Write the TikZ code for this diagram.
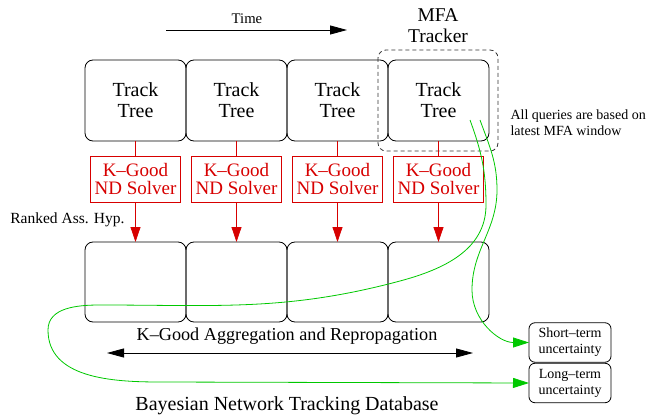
\documentclass[tikz,border=0pt]{standalone}
\usepackage{fontspec}
\setmainfont{Liberation Serif}
\usetikzlibrary{arrows.meta}
\definecolor{solverred}{RGB}{215,0,0}
\definecolor{querygreen}{RGB}{0,200,0}

\begin{document}
\begin{tikzpicture}[x=1pt,y=-1pt,
  treebox/.style={draw, rounded corners=8pt, minimum width=101pt, minimum height=81pt,
    inner sep=0pt, outer sep=0pt, line width=0.8pt, align=center,
    font=\fontsize{20}{21}\selectfont},
  dbbox/.style={draw, rounded corners=8pt, minimum width=101pt, minimum height=80pt,
    inner sep=0pt, outer sep=0pt, line width=0.8pt},
  solverbox/.style={draw=solverred, text=solverred, minimum width=90pt, minimum height=46pt,
    inner sep=0pt, outer sep=0pt, line width=0.8pt, align=center,
    font=\fontsize{19}{18}\selectfont},
  resultbox/.style={draw, rounded corners=6pt, minimum width=82pt, minimum height=39.5pt,
    inner sep=0pt, outer sep=0pt, line width=0.8pt, align=center,
    font=\fontsize{14}{16}\selectfont},
  redarrow/.style={solverred, line width=0.8pt, -{Triangle[length=15pt,width=10pt]}},
  blackarrow/.style={line width=0.8pt, -{Triangle[length=17pt,width=9pt]}},
  greenarrow/.style={querygreen, line width=0.8pt, -{Triangle[length=16pt,width=10pt]}},
]
\useasboundingbox (0,0) rectangle (646,420);

% time axis
\coordinate (t0) at (166,30);
\coordinate (t1) at (347,30);
\draw[blackarrow] (t0) -- (t1);
\node[font=\fontsize{14.7}{16}\selectfont] (timelbl) at (247,19) {Time};

% MFA tracker window
\node[align=center, font=\fontsize{19.5}{21}\selectfont] (mfalbl) at (438,26) {MFA\\Tracker};
\draw[line width=0.8pt, dash pattern=on 4pt off 3pt, rounded corners=8pt, black!80]
  (378,50) rectangle (498,151);

% track trees, solvers and database slots
\foreach \i/\x in {1/135.5, 2/236.5, 3/337.5, 4/438.5} {
  \node[treebox] (tt\i) at (\x,100.5) {Track\\Tree};
  \node[solverbox] (sv\i) at (\x,179) {K--Good\\ND Solver};
  \node[dbbox] (db\i) at (\x,282) {};
  \draw[solverred, line width=0.8pt] (tt\i.south) -- (sv\i.north);
  \draw[redarrow] (sv\i.south) -- (db\i.north);
}

\node[anchor=east, font=\fontsize{15.5}{17}\selectfont] (ranked) at (128,220) {Ranked Ass. Hyp.};

\node[anchor=north west, align=left, font=\fontsize{14}{16}\selectfont] (queries) at (507,106)
  {All queries are based on\\latest MFA window};

% aggregation across the database
\node[font=\fontsize{18.2}{20}\selectfont] (agglbl) at (287,336) {K--Good Aggregation and Repropagation};
\coordinate (a0) at (107,353);
\coordinate (a1) at (473,353);
\draw[line width=0.8pt, {Triangle[length=17pt,width=9pt]}-{Triangle[length=17pt,width=9pt]}] (a0) -- (a1);

\node[font=\fontsize{20}{22}\selectfont] (dblbl) at (287,406) {Bayesian Network Tracking Database};

% uncertainty outputs
\node[resultbox] (short) at (570,342.5) {Short--term\\uncertainty};
\node[resultbox] (long) at (570,383) {Long--term\\uncertainty};

% queries from the latest window
\coordinate (q1) at (480,120);
\coordinate (q2) at (470,120);
\draw[greenarrow] (q1) to[out=-70,in=90] (497,190) to[out=-90,in=90] (472,290)
  to[out=-90,in=180] (short.west);
\draw[greenarrow] (q2) to[out=-70,in=90] (486,205) to[out=-90,in=15] (400,281)
  to[out=195,in=0] (100,305) to[out=180,in=90] (48,330) to[out=-90,in=180] (160,382)
  -- (long.west);
\end{tikzpicture}
\end{document}
